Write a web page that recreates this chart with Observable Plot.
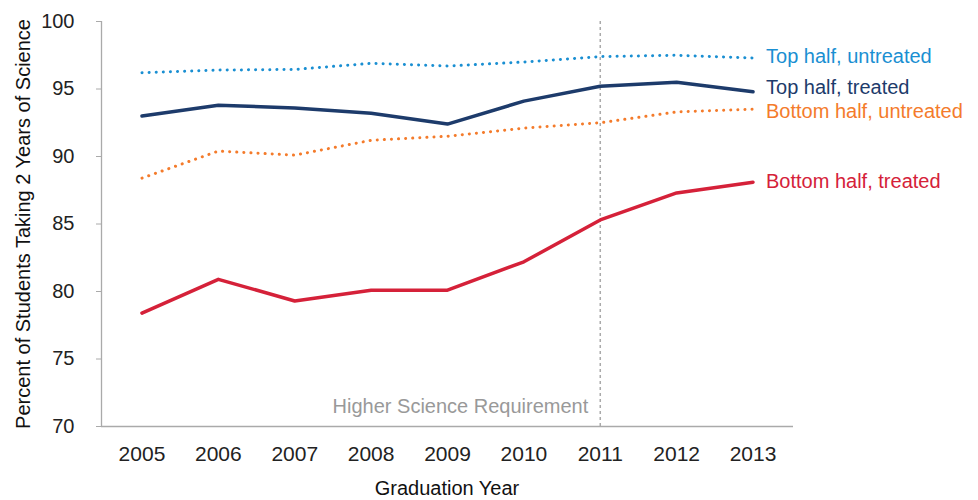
<!DOCTYPE html>
<html>
<head>
<meta charset="utf-8">
<script src="https://cdn.jsdelivr.net/npm/d3@7"></script>
<script src="https://cdn.jsdelivr.net/npm/@observablehq/plot@0.6"></script>
<style>
  body { margin: 0; background: #fff; }
  svg { font-family: "Liberation Sans", Arial, sans-serif; }
</style>
</head>
<body>
<div id="chart"></div>
<script>
const years = [2005, 2006, 2007, 2008, 2009, 2010, 2011, 2012, 2013];
const topUntreated    = [96.2, 96.4, 96.45, 96.9, 96.7, 97.0, 97.4, 97.5, 97.3];
const topTreated      = [93.0, 93.8, 93.6, 93.2, 92.4, 94.1, 95.2, 95.5, 94.8];
const bottomUntreated = [88.4, 90.4, 90.1, 91.2, 91.5, 92.1, 92.5, 93.3, 93.5];
const bottomTreated   = [78.4, 80.9, 79.3, 80.1, 80.1, 82.2, 85.3, 87.3, 88.1];
const seriesNames = ["Top half, untreated", "Top half, treated", "Bottom half, untreated", "Bottom half, treated"];
const yTicks = [70, 75, 80, 85, 90, 95, 100];
const policyYear = 2011;
const policyLabel = "Higher Science Requirement";

// styles (not data)
const styles = [
  {color: "#1a8fd2", dotted: true,  dy: -1},
  {color: "#1d3b6b", dotted: false, dy: -4},
  {color: "#f47b2b", dotted: true,  dy: 2},
  {color: "#d52139", dotted: false, dy: -1}
];

const allValues = [topUntreated, topTreated, bottomUntreated, bottomTreated];
const series = seriesNames.map((name, i) => ({
  name, style: styles[i],
  rows: years.map((year, j) => ({year, value: allValues[i][j], name}))
}));

const marks = [
  Plot.ruleX([policyYear], {y1: 70, y2: 100, stroke: "#aaa", strokeWidth: 1.5, strokeDasharray: "3,3"}),
  Plot.text([policyLabel], {x: policyYear, y: 71.5, text: d => d, textAnchor: "end", dx: -12, fill: "#999", fontSize: 20}),
  Plot.axisY({ticks: yTicks, tickSize: 5, stroke: "#aaa", fill: "#222", fontSize: 20, tickPadding: 22, label: null}),
  Plot.ruleX([2004.47], {y1: 70, y2: 100, stroke: "#aaa", strokeWidth: 1.3}),
  Plot.ruleY([70], {x1: 2004.47, x2: 2013.53, stroke: "#aaa", strokeWidth: 1.3}),
  Plot.axisX({ticks: years, tickSize: 0, tickFormat: d => String(d), fill: "#222", fontSize: 21, tickPadding: 20, label: null})
];
for (const s of series) {
  marks.push(Plot.line(s.rows, {
    x: "year", y: "value", stroke: s.style.color,
    strokeWidth: s.style.dotted ? 3 : 3.5,
    strokeDasharray: s.style.dotted ? "0.1,7" : null,
    strokeLinecap: "round", strokeLinejoin: "round"
  }));
  marks.push(Plot.text(s.rows.slice(-1), {
    x: "year", y: "value", text: "name", fill: s.style.color,
    textAnchor: "start", dx: 13, dy: s.style.dy, fontSize: 20
  }));
}

const chart = Plot.plot({
  width: 978, height: 500,
  marginLeft: 101, marginRight: 185, marginTop: 21, marginBottom: 74,
  style: {fontFamily: "Liberation Sans, Arial, sans-serif", fontSize: "20px", background: "#fff"},
  x: {domain: [2004.47, 2013.53], type: "linear"},
  y: {domain: [70, 100]},
  marks
});

// axis titles as real text
const svg = d3.select(chart);
svg.append("text").attr("x", 447).attr("y", 495).attr("text-anchor", "middle")
  .attr("fill", "#111").attr("font-size", 20).text("Graduation Year");
svg.append("text").attr("transform", "translate(30,224) rotate(-90)").attr("text-anchor", "middle")
  .attr("fill", "#111").attr("font-size", 20).text("Percent of Students Taking 2 Years of Science");

document.getElementById("chart").append(chart);
</script>
</body>
</html>
